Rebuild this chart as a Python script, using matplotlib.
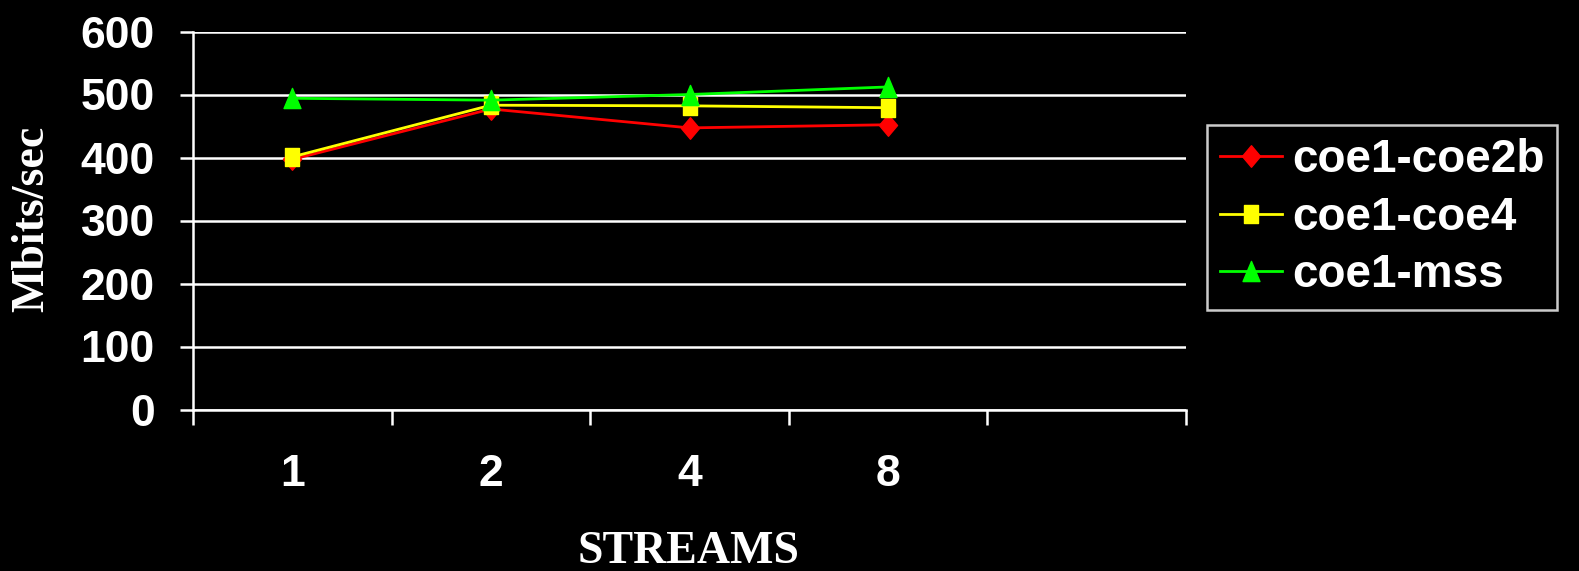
import matplotlib
matplotlib.use("Agg")
import matplotlib.pyplot as plt
from matplotlib.path import Path
import numpy as np

# Throughput per number of parallel streams
streams = ["1", "2", "4", "8"]
n_slots = 5
coe1_coe2b = [397, 477, 447, 452]
coe1_coe4 = [401, 483, 482, 479]
coe1_mss = [494, 491, 500, 512]

# Marker glyphs, slightly taller than wide
w = 0.42
diamond = Path([(0, 0.5), (w, 0), (0, -0.5), (-w, 0), (0, 0.5)], closed=True)
square = Path([(-w, -0.5), (w, -0.5), (w, 0.5), (-w, 0.5), (-w, -0.5)], closed=True)
triangle = Path([(0, 0.5), (w, -0.5), (-w, -0.5), (0, 0.5)], closed=True)

series = [
    ("coe1-coe2b", coe1_coe2b, "#ff0000", diamond, 15.5),
    ("coe1-coe4", coe1_coe4, "#ffff00", square, 12.5),
    ("coe1-mss", coe1_mss, "#00ff00", triangle, 14.5),
]

sans = "Liberation Sans"
serif = "Liberation Serif"

fig = plt.figure(figsize=(15.79, 5.71), dpi=100, facecolor="black")
ax = fig.add_axes([193 / 1579, 1 - 409.5 / 571, (1186 - 193) / 1579, (409.5 - 31.5) / 571])
ax.set_facecolor("black")

x = np.arange(len(streams))
for label, vals, color, marker, ms in series:
    ax.plot(x, vals, color=color, lw=2.0, marker=marker, markersize=ms,
            markeredgecolor=color, markeredgewidth=1.0, label=label)

ax.set_xlim(-0.5, n_slots - 0.5)
ax.set_ylim(0, 600)
ax.set_yticks(np.arange(0, 601, 100))
ax.yaxis.grid(True, color="white", lw=1.8)
ax.set_axisbelow(True)

ax.set_xticks(x)
ax.set_xticklabels(streams)
ax.set_xticks(np.arange(-0.5, n_slots, 1.0), minor=True)
ax.tick_params(axis="x", which="major", length=0, pad=32, labelsize=32, labelcolor="white")
ax.tick_params(axis="x", which="minor", length=11, width=1.8, color="white", direction="out")
ax.tick_params(axis="y", length=9.5, width=1.8, color="white", direction="out", pad=18,
               labelsize=32, labelcolor="white")
for lab in ax.get_xticklabels() + ax.get_yticklabels():
    lab.set_fontfamily(sans)
    lab.set_fontweight("bold")

for side in ("top", "right"):
    ax.spines[side].set_visible(False)
for side in ("left", "bottom"):
    ax.spines[side].set_color("white")
    ax.spines[side].set_linewidth(1.8)

fig.text(32 / 1579, 1 - 219 / 571, "Mbits/sec", rotation=90, ha="center", va="center",
         color="white", fontsize=33, fontweight="bold", family=serif)
fig.text(689 / 1579, 1 - 552 / 571, "STREAMS", ha="center", va="center",
         color="white", fontsize=33, fontweight="bold", family=serif)

leg = fig.legend(loc="upper left", bbox_to_anchor=(1207 / 1579, 1 - 125 / 571),
                 frameon=True, fancybox=False, facecolor="black", edgecolor="white",
                 prop={"family": sans, "weight": "bold", "size": 33},
                 handlelength=1.35, handletextpad=0.22, labelspacing=0.3,
                 borderpad=0.28, borderaxespad=0)
leg.get_frame().set_linewidth(1.8)
for t in leg.get_texts():
    t.set_color("white")

fig.savefig("out.png", dpi=100, facecolor="black")
